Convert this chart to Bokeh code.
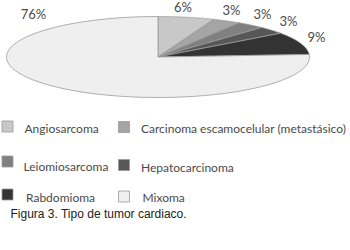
import numpy as np
from bokeh.plotting import figure
from bokeh.models import Range1d
from bokeh.core.properties import value
from bokeh.embed import file_html
from bokeh.resources import INLINE

# ---- data ----
categories = ["Angiosarcoma", "Carcinoma escamocelular (metastásico)", "Leiomiosarcoma",
              "Hepatocarcinoma", "Rabdomioma", "Mixoma"]
percents = [6, 3, 3, 3, 9, 76]
pct_labels = ["6%", "3%", "3%", "3%", "9%", "76%"]
colors = ["#c8c8c8", "#a5a5a5", "#808080", "#575757", "#333333", "#efefef"]
caption = "Figura 3. Tipo de tumor cardiaco."

# ---- layout (pixels) ----
W, H = 350, 250
cx, cy, ra, rb = 157.5, 56.5, 151.5, 40.5
label_pos = [(182.5, 6), (231, 9), (262, 13), (288, 20), (316, 36), (33, 13)]
# legend: (square x, square y, text x, text y)
legend_pos = [(7, 126, 24, 128), (123.5, 126.5, 140.5, 128),
              (7, 161, 23, 165.5), (123.5, 164.5, 140.5, 166.5),
              (7, 194, 25.5, 197), (123.5, 196, 142, 197)]

p = figure(width=W, height=H, output_backend="svg", toolbar_location=None,
           x_range=Range1d(0, W), y_range=Range1d(H, 0), min_border=0)
p.axis.visible = False
p.grid.visible = False
p.outline_line_color = None
p.background_fill_color = "white"
p.border_fill_color = "white"

# pie slices (clockwise from 12 o'clock), squashed into an ellipse
fr = np.array(percents, dtype=float) / sum(percents)
cum = np.concatenate([[0], np.cumsum(fr)])
xs, ys = [], []
for i in range(len(fr)):
    t = np.linspace(np.pi / 2 - cum[i] * 2 * np.pi, np.pi / 2 - cum[i + 1] * 2 * np.pi, 120)
    xs.append([cx] + list(cx + ra * np.cos(t)) + [cx])
    ys.append([cy] + list(cy - rb * np.sin(t)) + [cy])
p.patches(xs=xs, ys=ys, fill_color=colors, line_color="#9a9a9a", line_width=0.8)

# percentage labels
p.text(x=[q[0] for q in label_pos], y=[q[1] for q in label_pos], text=pct_labels,
       text_font=value("Lato"), text_font_size="13px", text_color="#4a4a4a",
       text_align="center", text_baseline="middle")

# legend
p.rect(x=[q[0] for q in legend_pos], y=[q[1] for q in legend_pos], width=11, height=11,
       width_units="screen", height_units="screen", fill_color=colors,
       line_color="#9a9a9a", line_width=0.8)
p.text(x=[q[2] for q in legend_pos], y=[q[3] for q in legend_pos], text=categories,
       text_font=value("Lato"), text_font_size="12px", text_color="#4a4a4a",
       text_align="left", text_baseline="middle")

# caption
p.text(x=[10], y=[213], text=[caption], text_font=value("Liberation Sans"),
       text_font_size="12px", text_color="#222222", text_align="left", text_baseline="middle")

html = file_html(p, INLINE)
html = html.replace("<head>", "<head><style>html,body{margin:0;padding:0;overflow:hidden;}</style>", 1)
open("out.html", "w").write(html)
